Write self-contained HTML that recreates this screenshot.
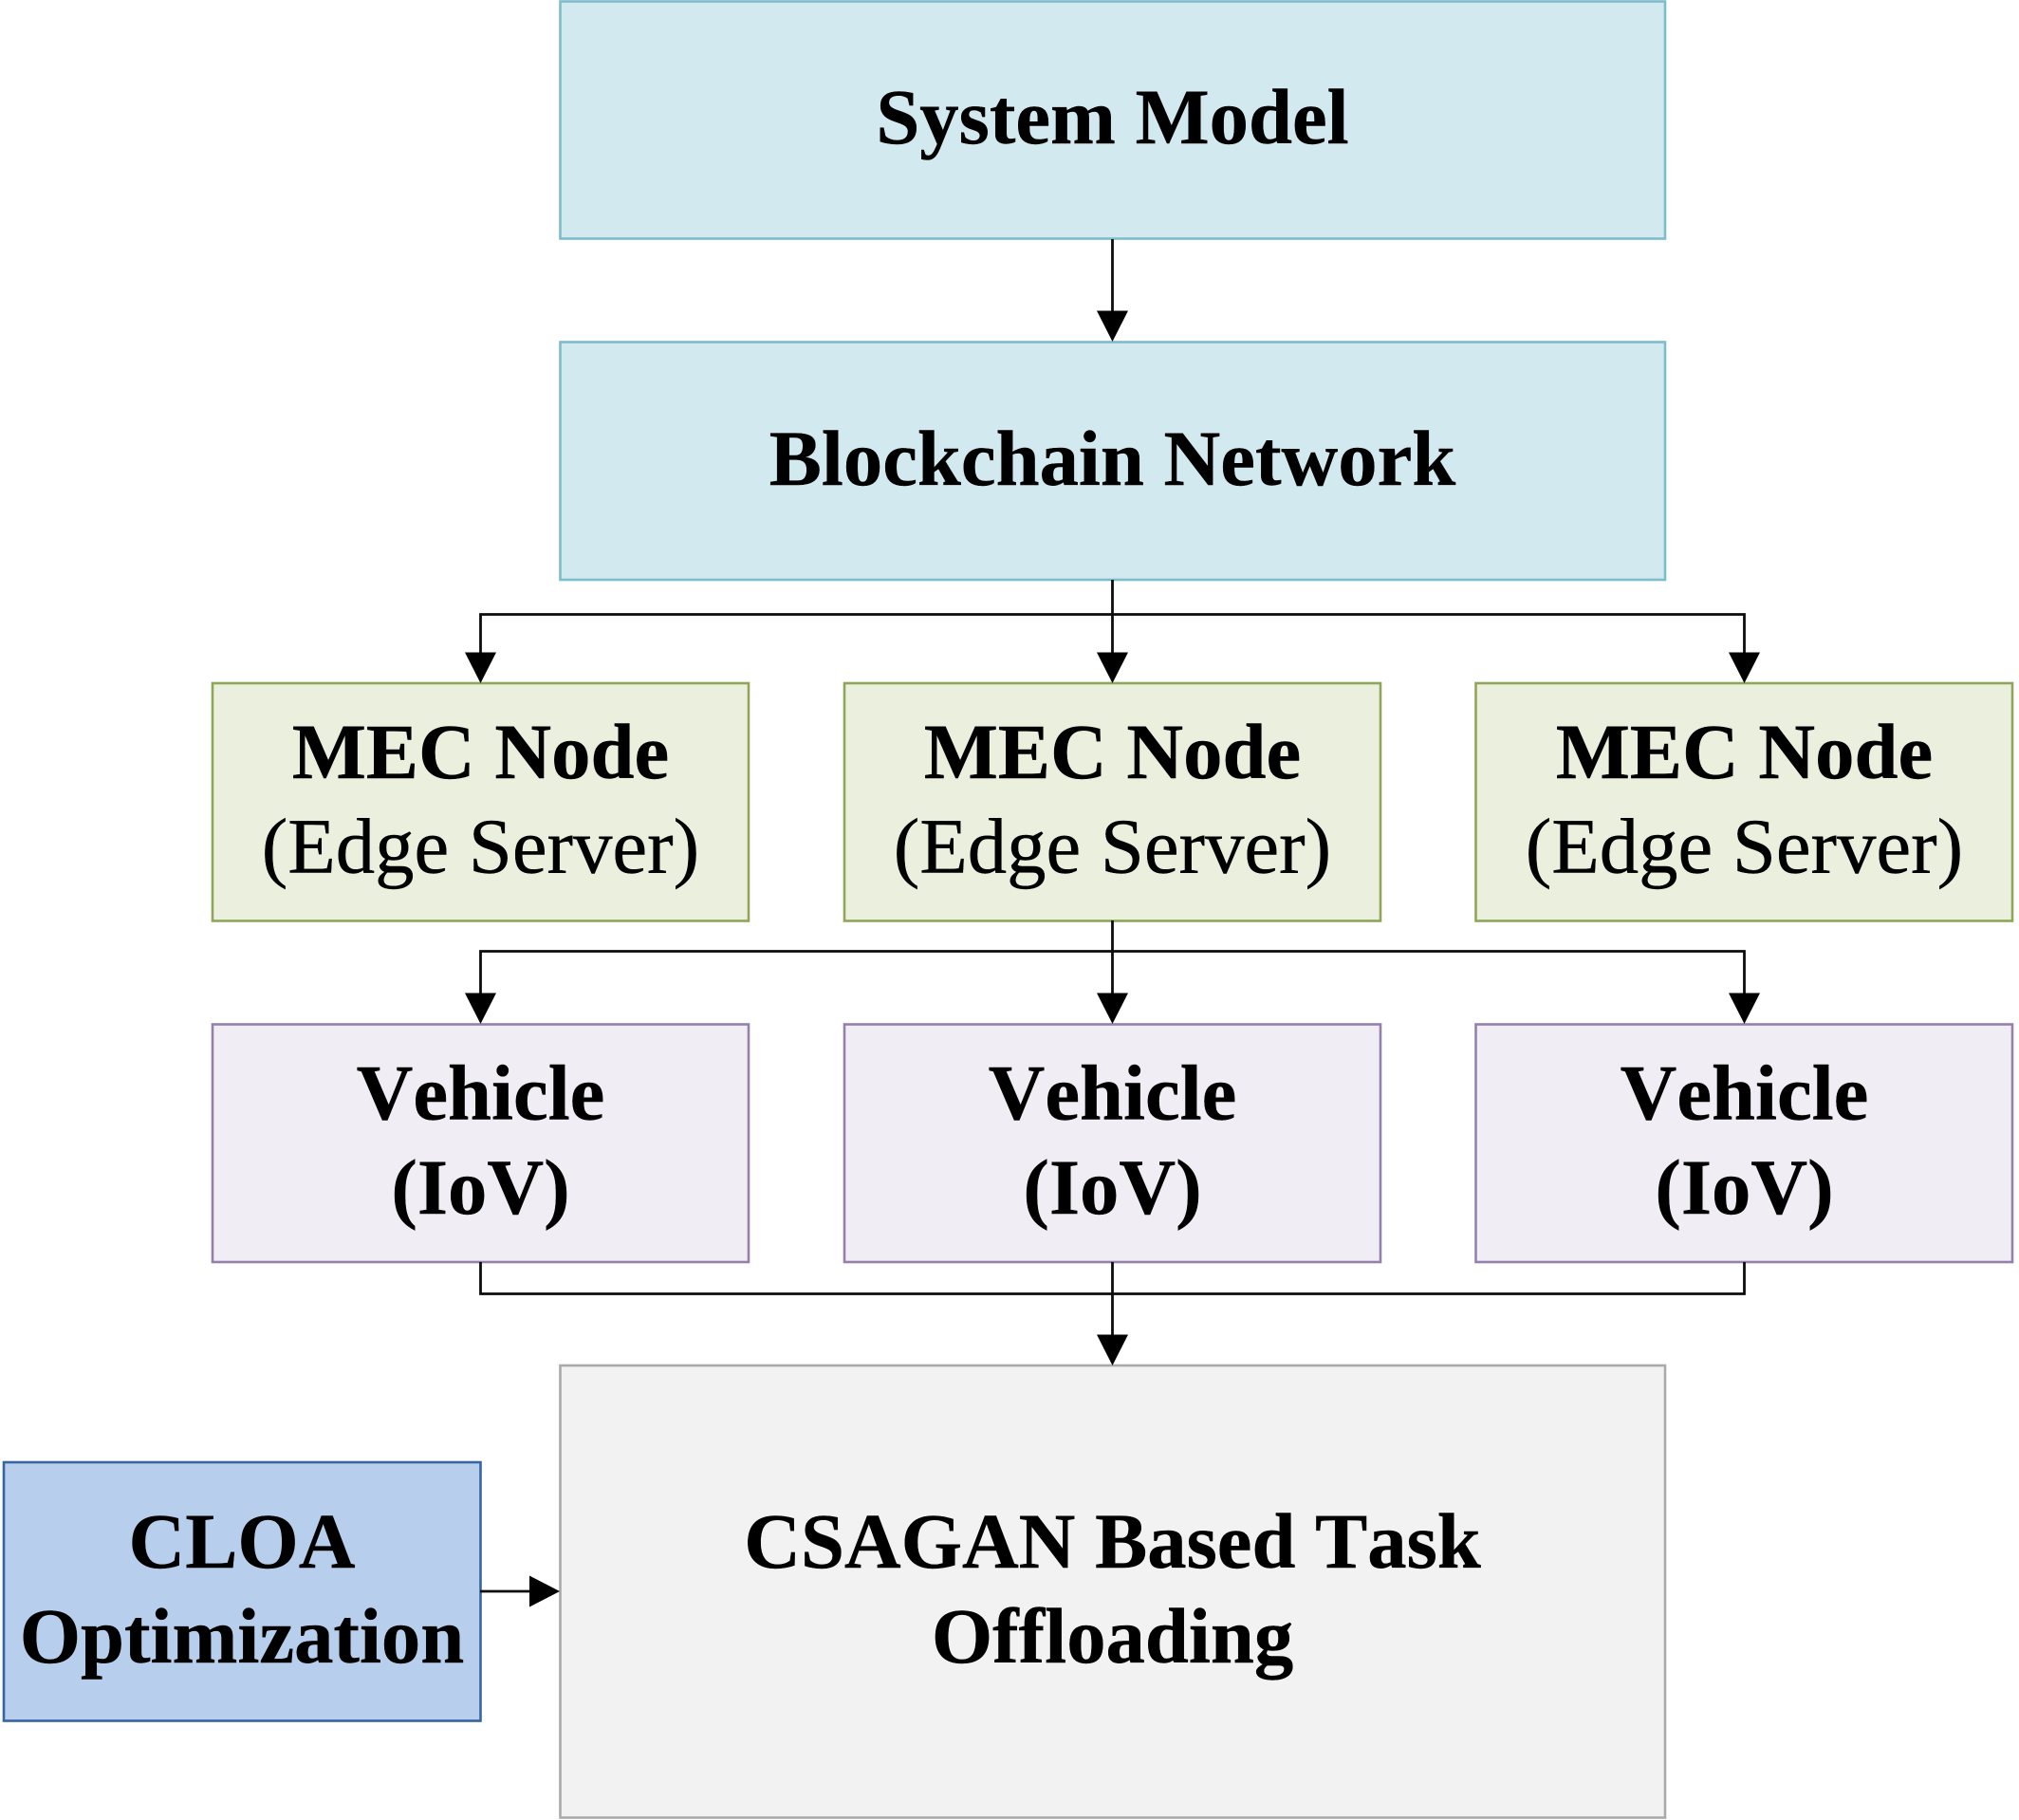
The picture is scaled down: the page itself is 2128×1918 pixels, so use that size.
<!DOCTYPE html>
<html>
<head>
<meta charset="utf-8">
<style>
html,body{margin:0;padding:0;background:#fff;width:2128px;height:1918px;overflow:hidden}
svg{display:block}
text{font-family:"Liberation Serif",serif;font-size:82.7px;fill:#000;text-anchor:middle;font-weight:bold;font-kerning:none;stroke:#000;stroke-width:.4}
text.n{font-weight:normal}
.l{fill:none;stroke:#0c0c0c;stroke-width:2.8}
.a{fill:#000}
.b{fill:#d2e9ef;stroke:#7dbccb;stroke-width:2.6}
.g{fill:#ebf0de;stroke:#8fa65a;stroke-width:2.6}
.p{fill:#f0eef4;stroke:#9580ac;stroke-width:2.6}
.y{fill:#f2f2f2;stroke:#aaaaaa;stroke-width:2.6}
.c{fill:#b7cfed;stroke:#37659f;stroke-width:2.6}
</style>
</head>
<body>
<svg width="2128" height="1918" viewBox="0 0 2128 1918" xmlns="http://www.w3.org/2000/svg">
<rect class="b" x="590.5" y="1.5" width="1164.5" height="250"/>
<rect class="b" x="590.5" y="360.5" width="1164.5" height="250.5"/>
<rect class="g" x="224" y="720" width="565" height="250.5"/>
<rect class="g" x="890" y="720" width="565" height="250.5"/>
<rect class="g" x="1555.5" y="720" width="565.5" height="250.5"/>
<rect class="p" x="224" y="1079.5" width="565" height="250.5"/>
<rect class="p" x="890" y="1079.5" width="565" height="250.5"/>
<rect class="p" x="1555.5" y="1079.5" width="565.5" height="250.5"/>
<rect class="y" x="590.5" y="1439" width="1164.5" height="476.5"/>
<rect class="c" x="4" y="1541" width="502.5" height="272.5"/>

<path class="l" d="M1172.5 252V330"/>
<path class="a" d="M1156 327.5H1189L1172.5 360Z"/>

<path class="l" d="M1172.5 611V689M506.5 689V647.5H1838.5V689"/>
<path class="a" d="M490 687.5H523L506.5 720Z"/>
<path class="a" d="M1156 687.5H1189L1172.5 720Z"/>
<path class="a" d="M1822 687.5H1855L1838.5 720Z"/>

<path class="l" d="M1172.5 970V1048M506.5 1048V1002.5H1838.5V1048"/>
<path class="a" d="M490 1046.5H523L506.5 1079Z"/>
<path class="a" d="M1156 1046.5H1189L1172.5 1079Z"/>
<path class="a" d="M1822 1046.5H1855L1838.5 1079Z"/>

<path class="l" d="M506.5 1330V1363.5H1838.5V1330M1172.5 1330V1408"/>
<path class="a" d="M1156 1406.5H1189L1172.5 1439Z"/>

<path class="l" d="M506 1677H560"/>
<path class="a" d="M558 1660.5V1693.5L590 1677Z"/>

<text x="1172.5" y="151">System Model</text>
<text x="1172.5" y="511">Blockchain Network</text>

<text x="506.5" y="820">MEC Node</text>
<text class="n" x="506.5" y="919.5">(Edge Server)</text>
<text x="1172.5" y="820">MEC Node</text>
<text class="n" x="1172.5" y="919.5">(Edge Server)</text>
<text x="1838.5" y="820">MEC Node</text>
<text class="n" x="1838.5" y="919.5">(Edge Server)</text>

<text x="506.5" y="1179.5">Vehicle</text>
<text x="506.5" y="1279">(IoV)</text>
<text x="1172.5" y="1179.5">Vehicle</text>
<text x="1172.5" y="1279">(IoV)</text>
<text x="1838.5" y="1179.5">Vehicle</text>
<text x="1838.5" y="1279">(IoV)</text>

<text x="255" y="1652">CLOA</text>
<text x="255" y="1752">Optimization</text>

<text x="1172.5" y="1652">CSAGAN Based Task</text>
<text x="1172.5" y="1752">Offloading</text>
</svg>
</body>
</html>
